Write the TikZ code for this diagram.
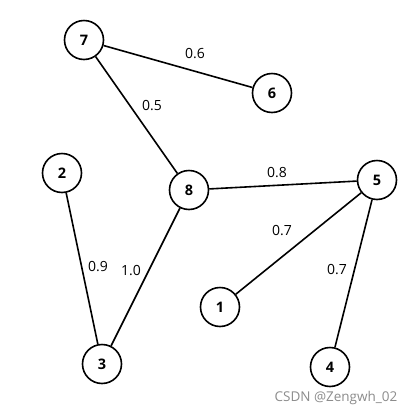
\documentclass[tikz,border=0pt]{standalone}
\usepackage{fontspec}
\setmainfont{Open Sans}
\begin{document}
\begin{tikzpicture}[x=1pt,y=-1pt,
  vtx/.style={circle,draw=black,line width=1.6pt,minimum size=39pt,inner sep=0pt,font=\fontsize{14.5}{14}\selectfont\bfseries},
  edge/.style={line width=1.6pt},
  wlab/.style={font=\fontsize{14}{14}\selectfont,inner sep=0pt}]
\useasboundingbox (0,0) rectangle (416,416);
\fill[white] (0,0) rectangle (416,416);
\node[vtx] (n7) at (84,40) {7};
\node[vtx] (n6) at (272,93) {6};
\node[vtx] (n2) at (62,173) {2};
\node[vtx] (n8) at (189,190) {8};
\node[vtx] (n5) at (377,180) {5};
\node[vtx] (n1) at (220,307) {1};
\node[vtx] (n3) at (102,364) {3};
\node[vtx] (n4) at (330,367) {4};
\draw[edge] (n7) -- (n6);
\draw[edge] (n7) -- (n8);
\draw[edge] (n8) -- (n5);
\draw[edge] (n5) -- (n1);
\draw[edge] (n5) -- (n4);
\draw[edge] (n2) -- (n3);
\draw[edge] (n8) -- (n3);
\node[wlab] (l76) at (195,54) {0.6};
\node[wlab] (l78) at (152,106) {0.5};
\node[wlab] (l85) at (277,173) {0.8};
\node[wlab] (l51) at (282,231) {0.7};
\node[wlab] (l54) at (337,270) {0.7};
\node[wlab] (l23) at (98,267) {0.9};
\node[wlab] (l83) at (131,271) {1.0};
\node[font=\fontsize{13.5}{14}\selectfont,text=black!45,inner sep=0pt] (wm) at (336,398) {CSDN @Zengwh\_02};
\end{tikzpicture}
\end{document}
